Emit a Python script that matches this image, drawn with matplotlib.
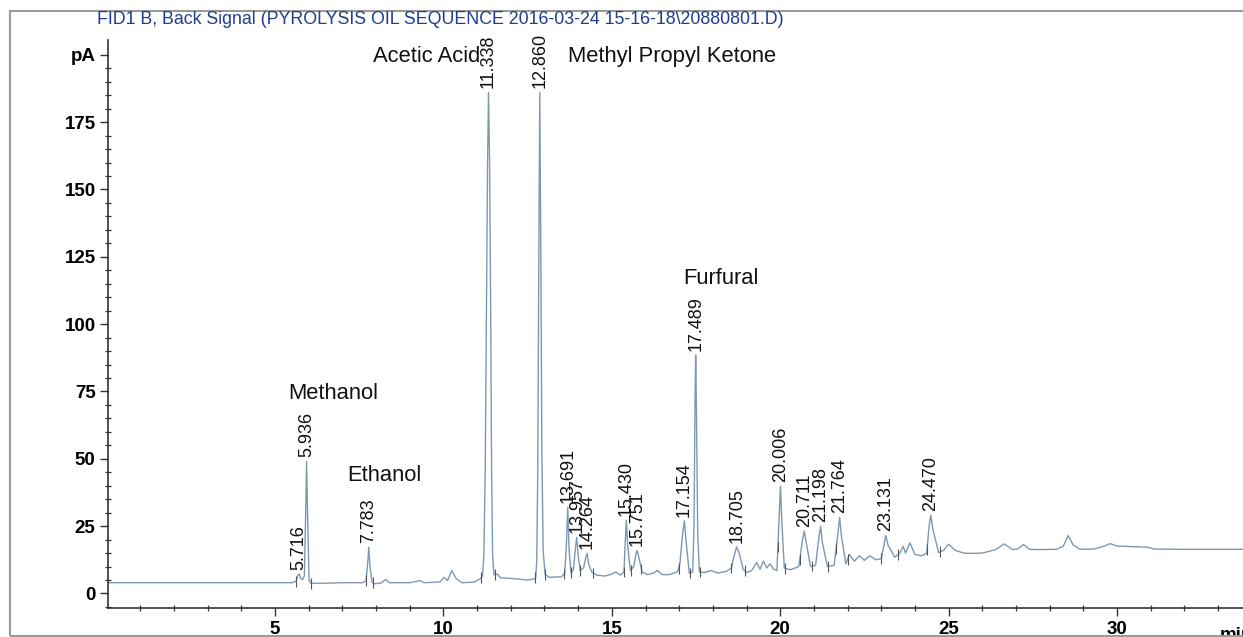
import numpy as np
import matplotlib
matplotlib.use("Agg")
from matplotlib import pyplot as plt
from matplotlib.patches import Rectangle

# trace vertices (time in min, signal in pA)
trace_time = [0.0, 5.50, 5.62, 5.68, 5.72, 5.77, 5.82, 5.87, 5.91, 5.936, 5.965, 6.01, 6.06, 6.4,
              7.0, 7.6, 7.70, 7.75, 7.783, 7.82, 7.88, 7.95, 8.15, 8.28, 8.40, 9.0, 9.30, 9.42, 9.9,
              10.02, 10.12, 10.25, 10.38, 10.55, 10.9, 11.10,
              11.16, 11.20, 11.24, 11.28, 11.31, 11.338, 11.37, 11.40, 11.43, 11.46, 11.50,
              11.60, 11.70, 12.0, 12.5, 12.70,
              12.74, 12.77, 12.80, 12.83, 12.86, 12.89, 12.92, 12.96, 13.02,
              13.15, 13.50, 13.60, 13.65, 13.691, 13.73, 13.79, 13.86, 13.92, 13.957, 14.00, 14.06,
              14.16, 14.22, 14.264, 14.31, 14.40, 14.55, 14.8, 15.0, 15.12, 15.25,
              15.36, 15.40, 15.43, 15.47, 15.55, 15.65, 15.72, 15.751, 15.79, 15.90, 16.05, 16.25,
              16.35, 16.5, 16.7, 16.95, 17.02, 17.10, 17.154, 17.20, 17.30, 17.40,
              17.44, 17.47, 17.489, 17.51, 17.55, 17.60, 17.75, 17.95, 18.15, 18.40, 18.55, 18.63,
              18.705, 18.78, 18.90, 19.0, 19.15, 19.30, 19.40, 19.50, 19.60, 19.70, 19.80, 19.90,
              19.96, 20.006, 20.05, 20.12, 20.30, 20.55, 20.65, 20.711, 20.77, 20.90, 21.05, 21.14,
              21.198, 21.25, 21.40, 21.60, 21.71, 21.764, 21.82, 21.95, 22.05, 22.2, 22.35, 22.5,
              22.65, 22.85, 23.0, 23.08, 23.131, 23.20, 23.40, 23.55, 23.65, 23.72, 23.85, 24.0,
              24.2, 24.35, 24.42, 24.470, 24.53, 24.70, 24.85, 25.0, 25.2, 25.45, 25.7, 26.0,
              26.4, 26.65, 26.9, 27.05, 27.22, 27.4, 27.7, 28.2, 28.4, 28.55, 28.7, 28.9,
              29.3, 29.55, 29.8, 30.0, 30.5, 30.9, 31.1, 32.0, 33.74]
trace_pA = [4.0, 4.0, 4.5, 6.8, 7.2, 5.5, 5.2, 6.5, 30, 49, 30, 5.0, 3.8, 3.8,
            4.0, 4.0, 4.8, 11, 17.2, 10, 4.2, 3.6, 3.9, 5.2, 4.0, 4.0, 4.8, 4.0, 4.3,
            6.0, 4.8, 8.5, 5.5, 4.0, 4.2, 5.5,
            6.5, 14, 45, 110, 160, 186, 160, 110, 45, 14, 7.0,
            7.2, 5.8, 5.6, 5.0, 5.4,
            6.0, 12, 45, 120, 186, 130, 55, 16, 7.0,
            6.0, 6.2, 7.5, 18, 32, 16, 7.5, 9, 17, 20.8, 14, 8.5,
            9.5, 13, 14.9, 11, 8.0, 6.8, 6.5, 7.2, 8.0, 6.8,
            8.0, 20, 27.2, 18, 8.5, 10, 15, 16, 14, 8.0, 7.0, 7.6,
            8.6, 7.0, 7.0, 8.0, 11, 22, 27, 20, 7.5, 8.0,
            25, 72, 88.5, 70, 22, 8.0, 7.8, 8.5, 7.6, 8.2, 9.5, 14,
            17.3, 15, 9, 7.8, 8.5, 11.5, 9.0, 12.0, 9.5, 11.0, 9.0, 8.5,
            26, 39.8, 26, 9.5, 8.8, 10, 19, 23.2, 19, 10, 10.5, 20,
            25, 19, 10, 10.5, 22, 28.2, 21, 11, 14.5, 12, 14, 12.3,
            14, 12.5, 13, 18, 21.5, 18, 13.5, 15, 17.5, 15, 18.8, 14.5,
            14, 15, 25, 29, 24, 15.2, 16, 18.3, 16, 15, 14.9, 15,
            16.3, 18.4, 16.3, 16.5, 18.2, 16.4, 16.3, 16.4, 17.5, 21.5, 18, 16.4,
            16.5, 17.3, 18.5, 17.6, 17.4, 17.2, 16.5, 16.4, 16.4]

# labelled peaks
peak_rt = [5.716, 5.936, 7.783, 11.338, 12.860, 13.691, 13.957, 14.264, 15.430, 15.751,
           17.154, 17.489, 18.705, 20.006, 20.711, 21.198, 21.764, 23.131, 24.470]
peak_apex = [7.2, 49, 17.2, 186, 186, 32, 20.8, 14.9, 27.2, 16,
             27, 88.5, 17.3, 39.8, 23.2, 25, 28.2, 21.5, 29]

# integration start/end marks
marks_t = [5.62, 6.06, 7.70, 7.90, 11.12, 11.52, 12.73, 13.03, 13.58, 13.80, 14.06, 14.45,
           15.36, 15.56, 15.88, 16.98, 17.33, 17.63, 18.55, 18.95, 19.93, 20.15, 20.58, 20.95,
           21.42, 21.66, 22.0, 23.0, 23.5, 24.36, 24.75]

compounds = ["Methanol", "Ethanol", "Acetic Acid", "Methyl Propyl Ketone", "Furfural"]
compound_t = [5.39, 7.13, 7.91, 13.70, 17.11]
compound_pA = [74.3, 43.9, 199.2, 199.2, 117.0]

title = "FID1 B, Back Signal (PYROLYSIS OIL SEQUENCE 2016-03-24 15-16-18\\20880801.D)"

plt.rcParams['font.family'] = ['Liberation Sans', 'DejaVu Sans']

fig = plt.figure(figsize=(12.43, 6.37), dpi=100)
ax = fig.add_axes([108/1243, 1-607.5/637, 1-108/1243, (607.5-40)/637])

# outer frame of the printout
fig.patches.append(Rectangle((10/1243, 1/637), 1.2, 625/637, transform=fig.transFigure,
                             fill=False, edgecolor='#9a9a9a', lw=1.5))

ax.plot(trace_time, trace_pA, color='#7f98b2', lw=1.0)

mark_y = np.interp(marks_t, trace_time, trace_pA)
ax.vlines(marks_t, mark_y - 2.0, mark_y + 2.0, color='#555555', lw=0.8)

for rt, h in zip(peak_rt, peak_apex):
    ax.annotate(f"{rt:.3f}", xy=(rt, h), xytext=(0, 3), textcoords='offset points',
                rotation=90, ha='center', va='bottom', fontsize=13, color='#111111')

for name, t, v in zip(compounds, compound_t, compound_pA):
    ax.text(t, v, name, ha='left', va='center', fontsize=15.8, color='#111111')

fig.text(97/1243, 1-20/637, title, ha='left', va='center', fontsize=12.8, color='#1f3d8c')

ax.set_xlim(0.04, 33.74)
ax.set_ylim(-5.2, 205.5)
ax.spines['top'].set_visible(False)
ax.spines['right'].set_visible(False)
for s in ('left', 'bottom'):
    ax.spines[s].set_color('#333333')
    ax.spines[s].set_linewidth(1.2)

ax.set_yticks(np.arange(0, 201, 25))
ax.set_yticklabels([str(v) for v in range(0, 176, 25)] + ['pA'])
ax.set_yticks(np.arange(-5, 201, 5), minor=True)
ax.set_xticks([5, 10, 15, 20, 25, 30])
ax.set_xticks(np.arange(1, 34, 1), minor=True)
ax.tick_params(axis='both', which='major', direction='out', length=6, width=1.0,
               color='#333333', labelsize=13.5)
ax.tick_params(axis='y', which='major', pad=3)
ax.tick_params(axis='x', which='major', pad=3.5)
ax.tick_params(axis='both', which='minor', direction='inout', length=4, width=0.9, color='#333333')
for lab in ax.get_xticklabels() + ax.get_yticklabels():
    lab.set_fontweight('bold')
ax.text(33.05, -0.035, "min", transform=ax.get_xaxis_transform(), ha='left', va='top',
        fontsize=13.5, fontweight='bold', clip_on=False)

fig.savefig("out.png", dpi=100)
